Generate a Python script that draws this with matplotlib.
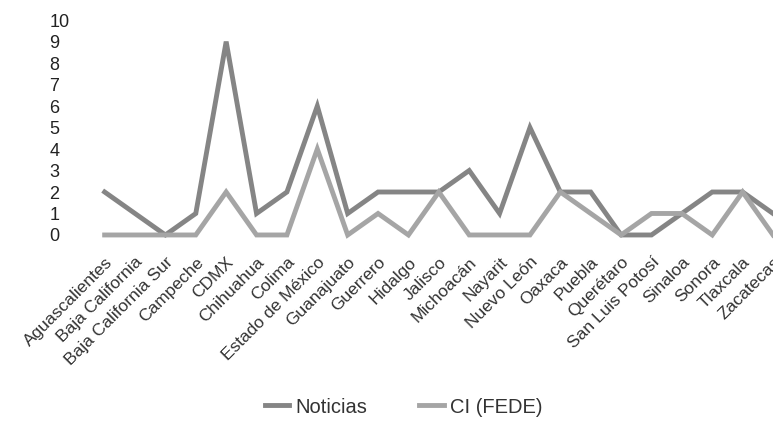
import matplotlib
matplotlib.use('Agg')
import matplotlib.pyplot as plt

# Datos por estado
estados = ['Aguascalientes', 'Baja California', 'Baja California Sur', 'Campeche',
           'CDMX', 'Chihuahua', 'Colima', 'Estado de México', 'Guanajuato',
           'Guerrero', 'Hidalgo', 'Jalisco', 'Michoacán', 'Nayarit', 'Nuevo León',
           'Oaxaca', 'Puebla', 'Querétaro', 'San Luis Potosí', 'Sinaloa',
           'Sonora', 'Tlaxcala', 'Zacatecas']
noticias = [2, 1, 0, 1, 9, 1, 2, 6, 1, 2, 2, 2, 3, 1, 5, 2, 2, 0, 0, 1, 2, 2, 1]
ci_fede = [0, 0, 0, 0, 2, 0, 0, 4, 0, 1, 0, 2, 0, 0, 0, 2, 1, 0, 1, 1, 0, 2, 0]
y_ticks = list(range(0, 11))

plt.rcParams['font.family'] = ['Liberation Sans', 'DejaVu Sans']

fig = plt.figure(figsize=(7.73, 4.28), dpi=100)
ax = fig.add_axes([0.10, 0.451, 0.90, 0.502])

x = list(range(len(estados)))
ax.plot(x, noticias, color='#858585', lw=3.5, label='Noticias', clip_on=False,
        solid_joinstyle='miter')
ax.plot(x, ci_fede, color='#a5a5a5', lw=3.5, label='CI (FEDE)', clip_on=False,
        solid_joinstyle='miter')

ax.set_xlim(-0.9, 22.0)
ax.set_ylim(0, 10)
ax.set_yticks(y_ticks)
ax.set_yticklabels([str(v) for v in y_ticks], fontsize=13, color='#222222', ha='left')
ax.set_xticks(x)
ax.set_xticklabels(estados, rotation=45, ha='right', va='top',
                   rotation_mode='anchor', fontsize=12.5, color='#333333')
ax.tick_params(axis='both', length=0)
ax.tick_params(axis='x', pad=14)
ax.tick_params(axis='y', pad=20)
for s in ax.spines.values():
    s.set_visible(False)

fig.legend(loc='center', bbox_to_anchor=(0.522, 0.049), ncol=2, frameon=False,
           fontsize=14.5, handlelength=1.2, handletextpad=0.3, columnspacing=2.6,
           labelcolor='#333333')

fig.savefig('out.png', dpi=100)
